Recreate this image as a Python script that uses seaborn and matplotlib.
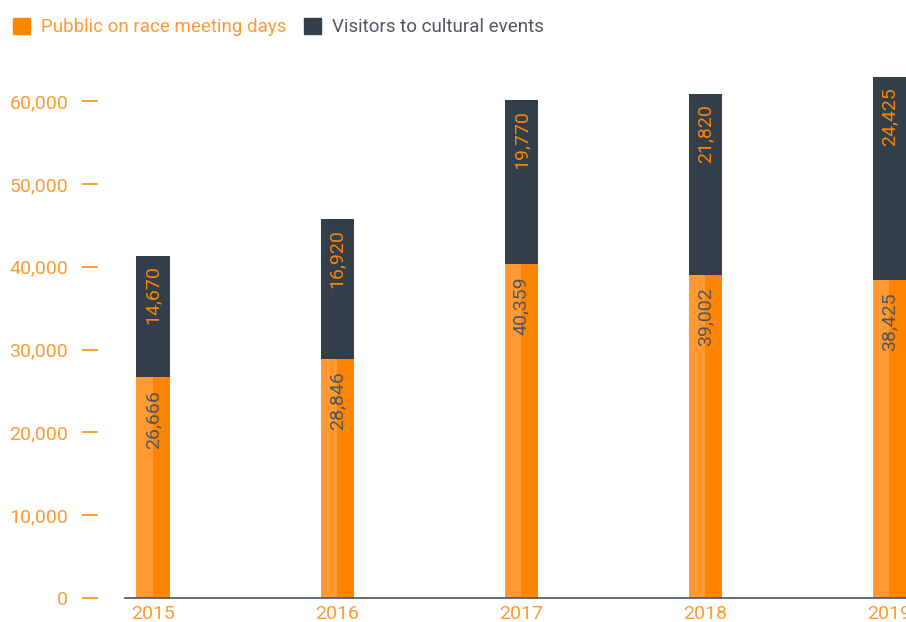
import pandas as pd
import seaborn as sns
import matplotlib.pyplot as plt

years = ["2015", "2016", "2017", "2018", "2019"]
public = [26666, 28846, 40359, 39002, 38425]
visitors = [14670, 16920, 19770, 21820, 24425]
yticks = [0, 10000, 20000, 30000, 40000, 50000, 60000]

ORANGE = "#FF8500"
ORANGE_LIGHT = "#FF9A33"
DARK = "#323E4A"
TEXT_ORANGE = "#FF9A33"
TEXT_DARK = "#4D5660"

sns.set_style("white")
plt.rcParams["font.family"] = ["Roboto", "DejaVu Sans"]

totals = [p + v for p, v in zip(public, visitors)]
df_total = pd.DataFrame({"year": years, "value": totals})
df_pub = pd.DataFrame({
    "year": years * 2,
    "tone": ["light"] * len(years) + ["dark"] * len(years),
    "value": public * 2,
})

fig = plt.figure(figsize=(9.06, 6.22), dpi=100)
ax = fig.add_axes([125 / 906, 24 / 622, 781 / 906, 528 / 622])

# full-height dark bars first, orange (two tones) drawn over them
sns.barplot(data=df_total, x="year", y="value", color=DARK, width=0.18,
            saturation=1, linewidth=0, ax=ax, order=years)
sns.barplot(data=df_pub, x="year", y="value", hue="tone", order=years,
            hue_order=["light", "dark"],
            palette={"light": ORANGE_LIGHT, "dark": ORANGE},
            width=0.18, saturation=1, linewidth=0, dodge=True, ax=ax,
            legend=False)

for i, (p, t) in enumerate(zip(public, totals)):
    ax.annotate(f"{p:,}", (i, p), xytext=(0, -9), textcoords="offset points",
                rotation=90, ha="center", va="top", fontsize=14,
                color=TEXT_DARK)
    ax.annotate(f"{t - p:,}", (i, t), xytext=(0, -7), textcoords="offset points",
                rotation=90, ha="center", va="top", fontsize=14,
                color=ORANGE)

ax.set_xlim(-0.152, 4.09)
ax.set_ylim(0, 63750)
ax.set_yticks(yticks)
ax.set_yticklabels([f"{v:,}" for v in yticks])
ax.set_xlabel("")
ax.set_ylabel("")

for s in ["top", "right", "left"]:
    ax.spines[s].set_visible(False)
ax.spines["left"].set_position(("outward", 19.4))
ax.spines["bottom"].set_color("#4A5560")
ax.spines["bottom"].set_linewidth(1.2)

ax.tick_params(axis="y", left=True, length=11.5, width=1.1, color=ORANGE,
               pad=10, labelcolor=TEXT_ORANGE, labelsize=14)
ax.tick_params(axis="x", bottom=False, length=0, pad=5,
               labelcolor=TEXT_ORANGE, labelsize=14)

handles = [plt.Rectangle((0, 0), 1, 1, color=ORANGE),
           plt.Rectangle((0, 0), 1, 1, color=DARK)]
fig.legend(handles, ["Pubblic on race meeting days", "Visitors to cultural events"],
           loc="upper left", bbox_to_anchor=(-0.004, 0.998), ncol=2, frameon=False,
           labelcolor=[TEXT_ORANGE, "#4E5862"],
           prop={"size": 13.5},
           handlelength=0.9, handleheight=0.9, handletextpad=0.6,
           columnspacing=0.9)

fig.savefig("out.png", dpi=100)
